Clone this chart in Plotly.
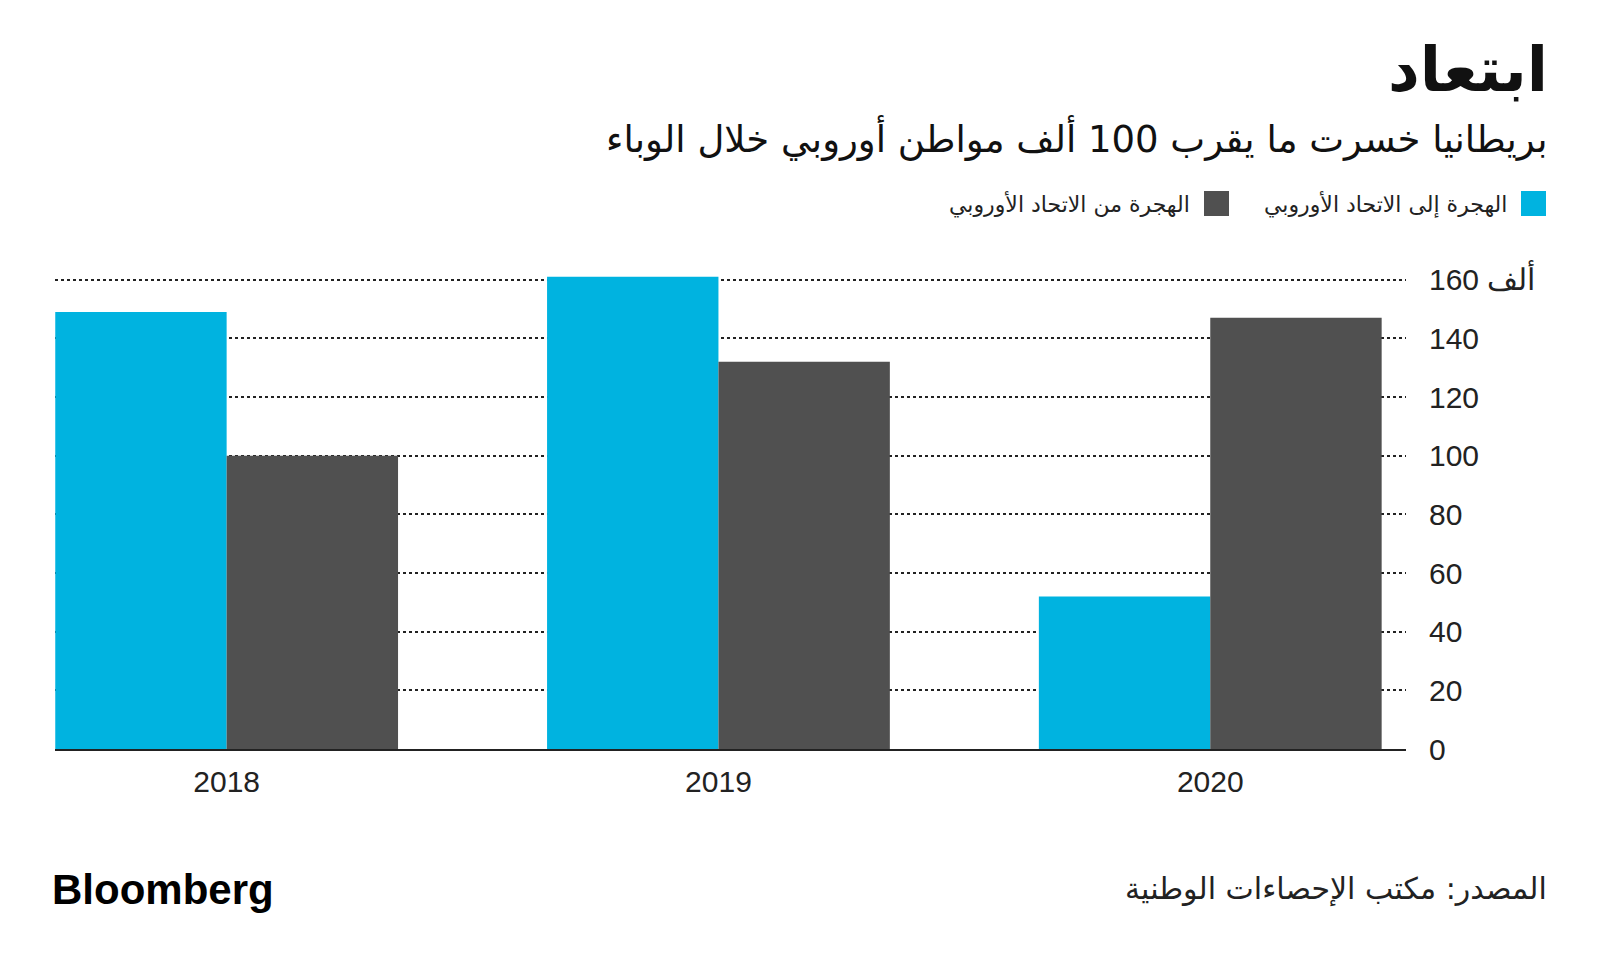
import plotly.graph_objects as go

years = ["2018", "2019", "2020"]
to_eu = [149, 161, 52]
from_eu = [100, 132, 147]
series_names = ["الهجرة إلى الاتحاد الأوروبي", "الهجرة من الاتحاد الأوروبي"]
y_tickvals = [0, 20, 40, 60, 80, 100, 120, 140, 160]
y_ticktext = ["0", "20", "40", "60", "80", "100", "120", "140", "160 ألف"]

title = "ابتعاد"
subtitle = "بريطانيا خسرت ما يقرب 100 ألف مواطن أوروبي خلال الوباء"
source = "المصدر: مكتب الإحصاءات الوطنية"

CYAN = "#00B3E0"
GREY = "#505050"
AR_FONT = "DejaVu Sans"
NUM_FONT = "Liberation Sans, Arial, sans-serif"

fig = go.Figure()
fig.add_bar(x=years, y=to_eu, name=series_names[0], marker_color=CYAN,
            marker_line_width=0, showlegend=False)
fig.add_bar(x=years, y=from_eu, name=series_names[1], marker_color=GREY,
            marker_line_width=0, showlegend=False)

# page body has an 8px margin: figure is 16px smaller and everything offset by 8
OFF = 8
W, H = 1600 - 2 * OFF, 968 - 2 * OFF
L, R, T, B = 55 - OFF, W - (1406 - OFF), 265 - OFF, H - (749 - OFF)
PW, PH = W - L - R, H - T - B

fig.update_layout(
    width=W, height=H,
    margin=dict(l=L, r=R, t=T, b=B, pad=0, autoexpand=False),
    paper_bgcolor="white", plot_bgcolor="white",
    barmode="group", bargap=0.303, bargroupgap=0,
    font=dict(family=NUM_FONT, color="#222222"),
    xaxis=dict(
        type="category", range=[-0.349, 2.398],
        showgrid=False, showline=True, linecolor="#222222", linewidth=2,
        ticks="", tickfont=dict(size=30, color="#222222"),
        ticklabelstandoff=5, fixedrange=True,
    ),
    yaxis=dict(
        side="right", range=[0, 165], tickvals=y_tickvals, ticktext=y_ticktext,
        showgrid=True, gridcolor="#222222", gridwidth=1.5, griddash="dot",
        zeroline=False, showline=False, ticks="",
        tickfont=dict(size=30, color="#222222"),
        ticklabelstandoff=22, fixedrange=True,
    ),
)


def px(x):
    return (x - OFF - L) / PW


def py(y):
    return ((H - B) - (y - OFF)) / PH


# Title and subtitle
fig.add_annotation(text="<b>" + title + "</b>", x=px(1550), y=py(70), xref="paper", yref="paper",
                   xanchor="right", yanchor="middle", showarrow=False,
                   font=dict(family=AR_FONT, size=62, color="#111111"))
fig.add_annotation(text=subtitle, x=px(1550), y=py(138), xref="paper", yref="paper",
                   xanchor="right", yanchor="middle", showarrow=False,
                   font=dict(family=AR_FONT, size=37, color="#111111"))

# Custom RTL legend
legend_items = [(series_names[0], CYAN, 1546), (series_names[1], GREY, 1229)]
for name, color, xr in legend_items:
    fig.add_shape(type="rect", xref="paper", yref="paper",
                  x0=px(xr - 25), x1=px(xr), y0=py(216), y1=py(191),
                  fillcolor=color, line_width=0)
    fig.add_annotation(text=name, x=px(xr - 37), y=py(204), xref="paper", yref="paper",
                       xanchor="right", yanchor="middle", showarrow=False,
                       font=dict(family=AR_FONT, size=22, color="#222222"))

# Footer
fig.add_annotation(text="<b>Bloomberg</b>", x=px(50), y=py(889), xref="paper", yref="paper",
                   xanchor="left", yanchor="middle", showarrow=False,
                   font=dict(family="Liberation Sans, Arial", size=42, color="#000000"))
fig.add_annotation(text=source, x=px(1549), y=py(889), xref="paper", yref="paper",
                   xanchor="right", yanchor="middle", showarrow=False,
                   font=dict(family=AR_FONT, size=30, color="#222222"))

fig.write_html("out.html")
